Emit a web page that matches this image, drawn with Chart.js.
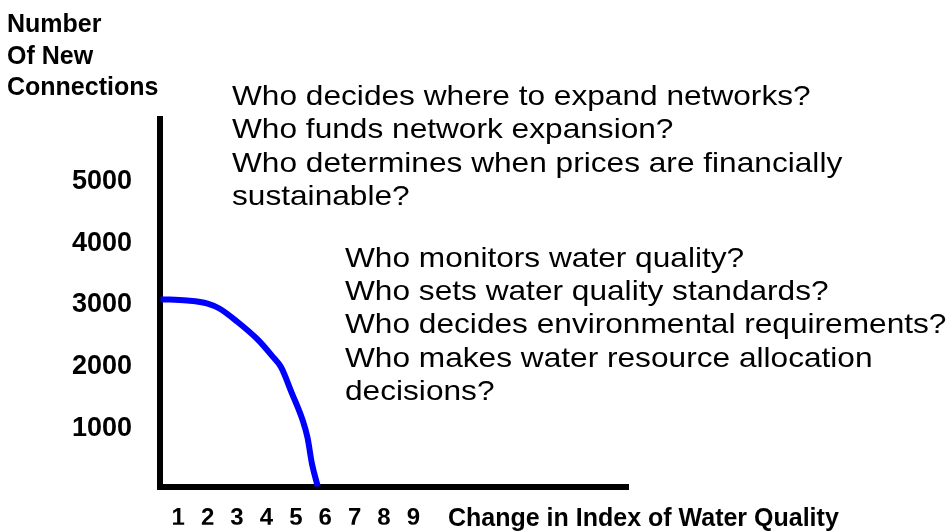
<!DOCTYPE html>
<html>
<head>
<meta charset="utf-8">
<script src="https://cdn.jsdelivr.net/npm/chart.js@4.4.1/dist/chart.umd.min.js"></script>
<style>
body { margin: 0; background: #fff; }
#wrap { position: relative; width: 946px; height: 531px; }
</style>
</head>
<body>
<div id="wrap"><canvas id="mycanvas"></canvas></div>
<script>
// curve
var xValues = [0.4, 1.3, 2.0, 2.4, 3.0, 3.7, 4.2, 4.5, 4.85, 5.25, 5.4, 5.55, 5.75];
var yValues = [3030, 3010, 2960, 2880, 2670, 2380, 2110, 1930, 1530, 1050, 790, 370, 0];

var xTicks = [1, 2, 3, 4, 5, 6, 7, 8, 9];
var yTicks = [1000, 2000, 3000, 4000, 5000];

var yTitle = ["Number", "Of New", "Connections"];
var xTitle = "Change in Index of Water Quality";

var questionsTop = [
	"Who decides where to expand networks?",
	"Who funds network expansion?",
	"Who determines when prices are financially",
	"sustainable?"
];
var questionsBottom = [
	"Who monitors water quality?",
	"Who sets water quality standards?",
	"Who decides environmental requirements?",
	"Who makes water resource allocation",
	"decisions?"
];

var FONT = '"Liberation Sans", Arial, sans-serif';

function drawBlock(ctx, lines, x, y, lineH) {
	ctx.save();
	ctx.font = '28px ' + FONT;
	ctx.translate(x, 0);
	ctx.scale(1.13, 1);
	for (var i = 0; i < lines.length; i++) {
		ctx.fillText(lines[i], 0, y + i * lineH);
	}
	ctx.restore();
}

var notes = {
	id: 'notes',
	afterDraw: function(chart) {
		var ctx = chart.ctx;
		ctx.save();
		ctx.fillStyle = '#000';
		ctx.textAlign = 'left';
		ctx.textBaseline = 'alphabetic';

		ctx.font = 'bold 25px ' + FONT;
		for (var i = 0; i < yTitle.length; i++) {
			ctx.fillText(yTitle[i], 7, 32 + i * 31.7);
		}

		ctx.font = 'bold 25px ' + FONT;
		ctx.fillText(xTitle, 448, 526);

		drawBlock(ctx, questionsTop, 232, 105, 33.3);
		drawBlock(ctx, questionsBottom, 345, 266.7, 33.3);
		ctx.restore();
	}
};

var points = [];
for (var i in xValues) {
	points.push({ x: xValues[i], y: yValues[i] });
}

var chartdata = {
	datasets: [
		{
			label: "Connections",
			data: points,
			borderColor: "#0000ff",
			borderWidth: 6,
			pointRadius: 0,
			fill: false,
			cubicInterpolationMode: 'monotone'
		}
	]
};

var ctx = document.getElementById("mycanvas");

var LineGraph = new Chart(ctx, {
	type: 'line',
	data: chartdata,
	plugins: [notes],
	options: {
		responsive: true,
		maintainAspectRatio: false,
		animation: false,
		layout: { padding: { left: 0, right: 318, top: 119, bottom: 0 } },
		plugins: {
			legend: { display: false },
			tooltip: { enabled: false }
		},
		scales: {
			x: {
				type: 'linear',
				min: 0.38,
				max: 16.3,
				afterBuildTicks: function(scale) {
					scale.ticks = xTicks.map(function(v) { return { value: v }; });
				},
				afterFit: function(scale) { scale.height = 38; },
				grid: { display: false, drawTicks: false },
				border: { display: true, color: '#000', width: 6 },
				ticks: {
					color: '#000',
					font: { family: FONT, size: 24, weight: 'bold' },
					padding: 17,
					autoSkip: false,
					maxRotation: 0,
					callback: function(v) { return String(v); }
				}
			},
			y: {
				min: 0,
				max: 5940,
				afterBuildTicks: function(scale) {
					scale.ticks = yTicks.map(function(v) { return { value: v }; });
				},
				afterFit: function(scale) { scale.width = 160; },
				grid: { display: false, drawTicks: false },
				border: { display: true, color: '#000', width: 6 },
				ticks: {
					color: '#000',
					font: { family: FONT, size: 27, weight: 'bold' },
					padding: 28,
					labelOffset: 4,
					callback: function(v) { return String(v); }
				}
			}
		}
	}
});
</script>
</body>
</html>
